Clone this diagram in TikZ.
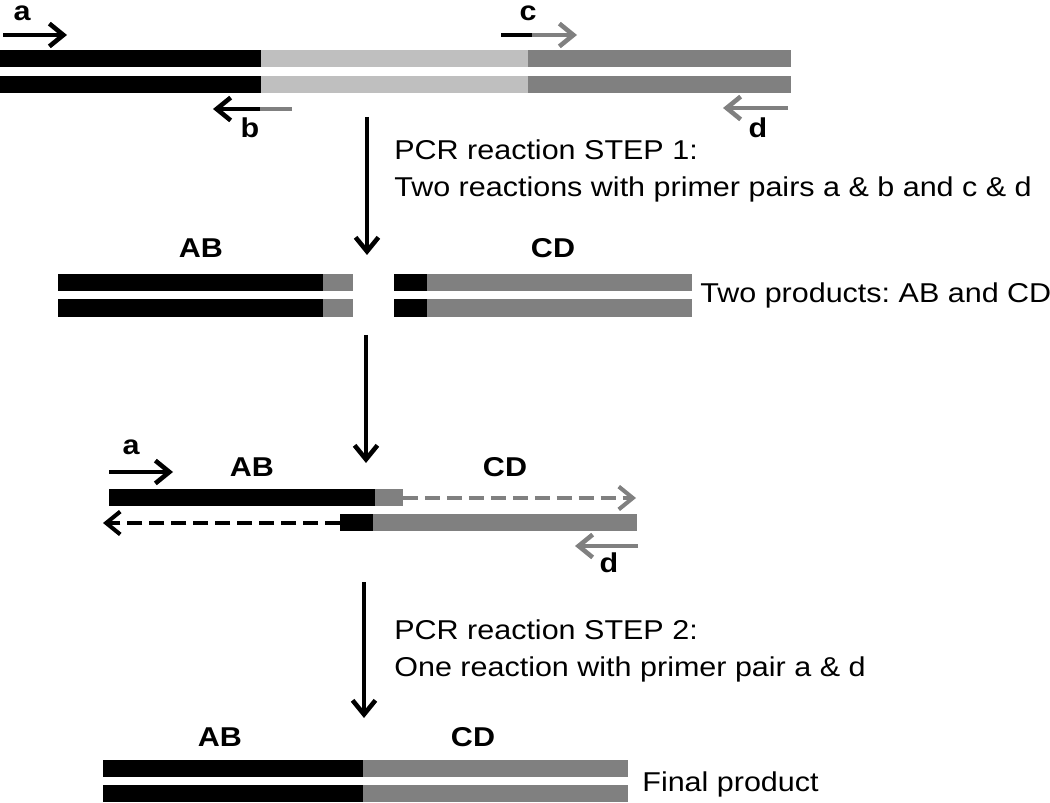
\documentclass[tikz,border=0pt]{standalone}
\usepackage{fontspec}
\setmainfont{Liberation Sans}[FakeStretch=1.12]
\frenchspacing
\usetikzlibrary{arrows.meta}
\tikzstyle{blk}=[fill=black]
\tikzstyle{lgr}=[fill=gray!50]
\tikzstyle{dgr}=[fill=gray]
\tikzstyle{primer}=[line width=2.6pt, -{Straight Barb[length=8pt,width=13pt]}]
\tikzstyle{tail}=[line width=2.6pt]
\tikzstyle{newstrand}=[line width=2.3pt, dash pattern=on 8.5pt off 4pt, -{Straight Barb[length=8pt,width=13pt]}]
\tikzstyle{stepline}=[line width=2.6pt, -{Straight Barb[length=8pt,width=13pt]}]
\tikzstyle{lbl}=[font=\fontsize{15.5}{18}\selectfont\bfseries, inner sep=0pt]
\tikzstyle{txt}=[font=\fontsize{15.5}{21}\selectfont, anchor=base west, inner sep=0pt]

\begin{document}
\begin{tikzpicture}[x=0.02cm,y=-0.02cm]
\useasboundingbox (0,0) rectangle (1050,803);
\fill[blk] (0,50) rectangle (261,67);
\fill[lgr] (261,50) rectangle (528,67);
\fill[dgr] (528,50) rectangle (791,67);
\fill[blk] (0,76) rectangle (261,93);
\fill[lgr] (261,76) rectangle (528,93);
\fill[dgr] (528,76) rectangle (791,93);
\coordinate (a1) at (3,35);
\coordinate (a2) at (67,35);
\draw[primer] (a1) -- (a2);
\node[lbl] (la) at (22,13) {a};
\coordinate (b0) at (292,109);
\coordinate (b1) at (260,109);
\coordinate (b2) at (213,109);
\draw[tail,gray] (b0) -- (b1);
\draw[primer] (b1) -- (b2);
\node[lbl] (lb) at (250,128) {b};
\coordinate (c0) at (501,35);
\coordinate (c1) at (532,35);
\coordinate (c2) at (577,35);
\draw[tail] (c0) -- (c1);
\draw[primer,gray] (c1) -- (c2);
\node[lbl] (lc) at (528,13) {c};
\coordinate (d1) at (788,108);
\coordinate (d2) at (723,108);
\draw[primer,gray] (d1) -- (d2);
\node[lbl] (ld) at (758,128) {d};
\coordinate (s1a) at (367,117);
\coordinate (s1b) at (367,255);
\draw[stepline] (s1a) -- (s1b);
\node[txt] (t1) at (394,160) {PCR reaction STEP 1:};
\node[txt] (t2) at (394,197) {Two reactions with primer pairs a \& b and c \& d};
\node[lbl] (ab1) at (201,248) {AB};
\node[lbl] (cd1) at (553,248) {CD};
\fill[blk] (58,274) rectangle (323,291);
\fill[dgr] (323,274) rectangle (353,291);
\fill[blk] (58,299) rectangle (323,317);
\fill[dgr] (323,299) rectangle (353,317);
\fill[blk] (394,274) rectangle (427,291);
\fill[dgr] (427,274) rectangle (692,291);
\fill[blk] (394,299) rectangle (427,317);
\fill[dgr] (427,299) rectangle (692,317);
\node[txt] (t3) at (700,303) {Two products: AB and CD};
\coordinate (s2a) at (366,335);
\coordinate (s2b) at (366,463);
\draw[stepline] (s2a) -- (s2b);
\coordinate (e1) at (109,472);
\coordinate (e2) at (173,472);
\draw[primer] (e1) -- (e2);
\node[lbl] (le) at (131,447) {a};
\node[lbl] (ab2) at (252,467) {AB};
\node[lbl] (cd2) at (505,467) {CD};
\fill[blk] (109,489) rectangle (375,506);
\fill[dgr] (375,489) rectangle (403,506);
\coordinate (g1) at (403,498);
\coordinate (g2) at (636,498);
\draw[newstrand,gray] (g1) -- (g2);
\fill[blk] (340,514) rectangle (373,531);
\fill[dgr] (373,514) rectangle (637,531);
\coordinate (h1) at (340,523);
\coordinate (h2) at (103,523);
\draw[newstrand] (h1) -- (h2);
\coordinate (f1) at (638,546);
\coordinate (f2) at (575,546);
\draw[primer,gray] (f1) -- (f2);
\node[lbl] (lf) at (609,563) {d};
\coordinate (s3a) at (364,582);
\coordinate (s3b) at (364,718);
\draw[stepline] (s3a) -- (s3b);
\node[txt] (t4) at (394,639) {PCR reaction STEP 2:};
\node[txt] (t5) at (394,676) {One reaction with primer pair a \& d};
\node[lbl] (ab3) at (220,737) {AB};
\node[lbl] (cd3) at (473,737) {CD};
\fill[blk] (103,760) rectangle (363,777);
\fill[dgr] (363,760) rectangle (628,777);
\fill[blk] (103,785) rectangle (363,802);
\fill[dgr] (363,785) rectangle (628,802);
\node[txt] (t6) at (642,791) {Final product};
\end{tikzpicture}
\end{document}
